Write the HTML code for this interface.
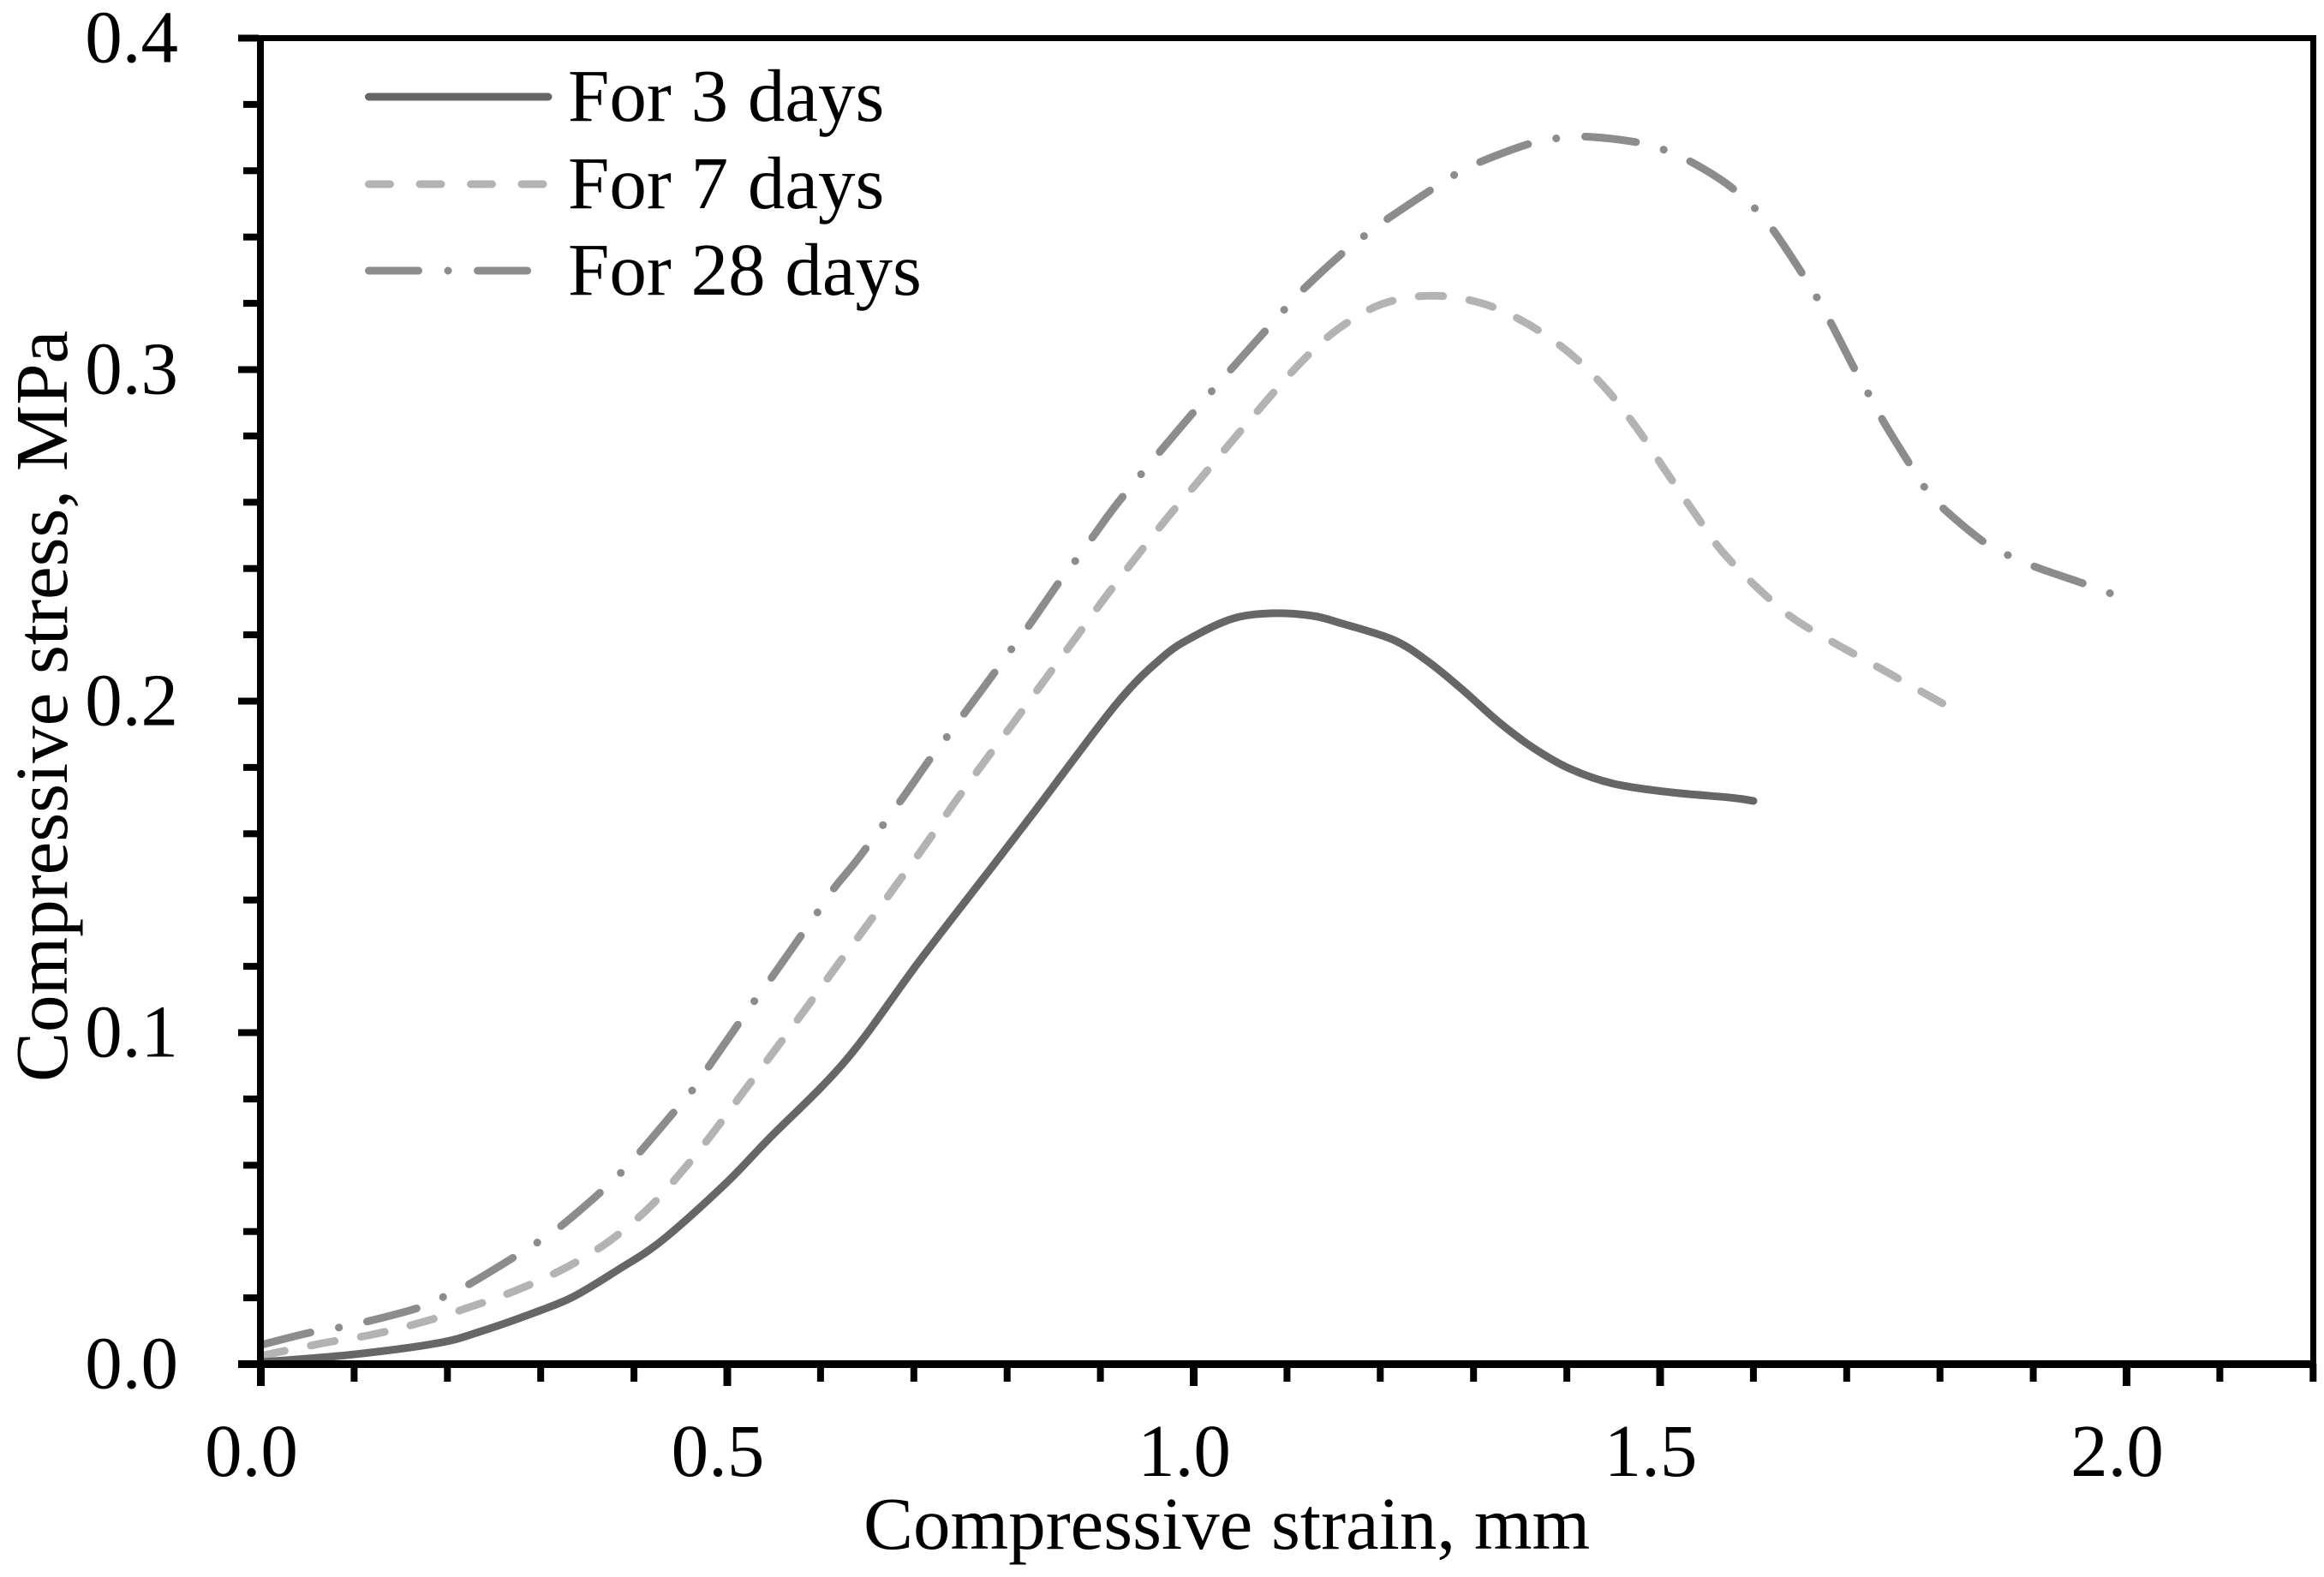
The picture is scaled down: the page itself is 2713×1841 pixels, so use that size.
<!DOCTYPE html>
<html lang="en">
<head>
<meta charset="utf-8">
<title>Compressive stress vs strain</title>
<style>
html,body{margin:0;padding:0;background:#fff;width:2713px;height:1841px;overflow:hidden}
svg{display:block;position:absolute;left:0;top:0}
text{font-family:"Liberation Serif","Times New Roman",serif;font-size:87px;fill:#000}
</style>
</head>
<body>
<svg id="chart" xmlns="http://www.w3.org/2000/svg" width="2713" height="1841" viewBox="0 0 2713 1841">
  <rect x="0" y="0" width="2713" height="1841" fill="#fff"/>
  <g id="series-layer"></g>
  <g id="axes-layer"></g>
  <g>
    <line x1="430.5" y1="113" x2="640" y2="113" stroke="#666666" stroke-width="9" stroke-linecap="round"/>
    <text x="663" y="141" word-spacing="1">For 3 days</text>
    <line x1="430.5" y1="215" x2="634" y2="215" stroke="#b3b3b3" stroke-width="9" stroke-linecap="round" stroke-dasharray="25 34.5"/>
    <text x="663" y="243" word-spacing="1">For 7 days</text>
    <line x1="430.5" y1="316" x2="616.5" y2="316" stroke="#8c8c8c" stroke-width="9" stroke-linecap="round" stroke-dasharray="58 34.5 0.1 34.5"/>
    <text x="663" y="344" word-spacing="1">For 28 days</text>
  </g>
  <text x="1008" y="1808">Compressive strain, mm</text>
  <text transform="translate(78,1263) rotate(-90)" x="0" y="0">Compressive stress, MPa</text>
</svg>
<script>
const xTickLabels = ["0.0", "0.5", "1.0", "1.5", "2.0"];
const yTickLabels = ["0.0", "0.1", "0.2", "0.3", "0.4"];
const xMajorTicks = [0, 0.5, 1.0, 1.5, 2.0];
const yMajorTicks = [0, 0.1, 0.2, 0.3, 0.4];
const xMinorTicks = [0.1,0.2,0.3,0.4,0.6,0.7,0.8,0.9,1.1,1.2,1.3,1.4,1.6,1.7,1.8,1.9,2.1,2.2];
const yMinorTicks = [0.02,0.04,0.06,0.08,0.12,0.14,0.16,0.18,0.22,0.24,0.26,0.28,0.32,0.34,0.36,0.38];

const strain3 = [0,.095,.189,.236,.294,.336,.382,.430,.498,.544,.627,.706,.783,.831,.917,.966,1.000,1.043,1.086,1.128,1.159,1.214,1.251,1.288,1.327,1.364,1.404,1.450,1.511,1.575,1.600];
const stress3 = [.0006,.0028,.0063,.0099,.0156,.0205,.0283,.0373,.0544,.0678,.0916,.1216,.1497,.1673,.1991,.2131,.2195,.2250,.2265,.2257,.2234,.2185,.2120,.2035,.1937,.1859,.1795,.1751,.1725,.1709,.1699];

const strain7 = [0,.066,.119,.171,.224,.275,.325,.371,.414,.451,.485,.517,.551,.583,.615,.648,.680,.712,.743,.775,.808,.840,.872,.904,.938,.972,1.004,1.059,1.114,1.155,1.202,1.255,1.309,1.358,1.403,1.442,1.476,1.506,1.537,1.566,1.607,1.650,1.739,1.804];
const stress7 = [.0025,.0063,.0089,.0125,.0172,.0224,.0288,.0366,.0466,.0580,.0699,.0820,.0947,.1068,.1192,.1317,.1441,.1565,.1691,.1815,.1939,.2063,.2185,.2309,.2433,.2554,.2660,.2844,.3019,.3123,.3198,.3223,.3200,.3138,.3050,.2942,.2820,.2694,.2567,.2453,.2335,.2236,.2094,.1991];

const strain28 = [0,.051,.083,.113,.168,.196,.224,.271,.297,.322,.364,.387,.408,.443,.463,.481,.512,.530,.549,.580,.598,.616,.642,.687,.718,.737,.756,.788,.806,.825,.856,.875,.893,.926,1.007,1.100,1.121,1.161,1.186,1.211,1.257,1.283,1.312,1.363,1.394,1.425,1.479,1.509,1.537,1.573,1.605,1.624,1.655,1.671,1.686,1.711,1.726,1.741,1.770,1.787,1.808,1.851,1.879,1.908,1.959,1.990];
const stress28 = [.0058,.0094,.0110,.0128,.0169,.0203,.0242,.0322,.0368,.0417,.0518,.0580,.0645,.0761,.0828,.0901,.1027,.1099,.1172,.1296,.1368,.1441,.1531,.1704,.1828,.1898,.1970,.2092,.2162,.2234,.2360,.2430,.2500,.2624,.2895,.3190,.3252,.3355,.3410,.3461,.3547,.3593,.3632,.3684,.3699,.3702,.3684,.3658,.3621,.3557,.3477,.3410,.3278,.3203,.3125,.2988,.2914,.2836,.2704,.2632,.2570,.2472,.2433,.2399,.2350,.2317];

const NS = 'http://www.w3.org/2000/svg';
function xScale(v){ return 304.5 + v * 1089; }
function yScale(v){ return 1592.5 - v * 3870; }

function buildPath(xs, ys){
  const p = xs.map((x,i)=>[xScale(x), yScale(ys[i])]);
  let d = 'M' + p[0][0].toFixed(1) + ' ' + p[0][1].toFixed(1);
  for(let i=0;i<p.length-1;i++){
    const a=p[Math.max(i-1,0)], b=p[i], c=p[i+1], e=p[Math.min(i+2,p.length-1)];
    const c1x=b[0]+(c[0]-a[0])/6, c1y=b[1]+(c[1]-a[1])/6;
    const c2x=c[0]-(e[0]-b[0])/6, c2y=c[1]-(e[1]-b[1])/6;
    d += ' C'+c1x.toFixed(1)+' '+c1y.toFixed(1)+' '+c2x.toFixed(1)+' '+c2y.toFixed(1)+' '+c[0].toFixed(1)+' '+c[1].toFixed(1);
  }
  return d;
}

const seriesLayer = document.getElementById('series-layer');
const axesLayer = document.getElementById('axes-layer');

function addSeries(name, xs, ys, color, dash){
  const el = document.createElementNS(NS,'path');
  
  
  el.setAttribute('d', buildPath(xs, ys));
  el.setAttribute('fill', 'none');
  el.setAttribute('stroke', color);
  el.setAttribute('stroke-width', '9');
  el.setAttribute('stroke-linecap', 'round');
  el.setAttribute('stroke-linejoin', 'round');
  if(dash){ el.setAttribute('stroke-dasharray', dash); }
  seriesLayer.appendChild(el);
}
addSeries('series-28-days', strain28, stress28, '#8c8c8c', '59.6 33.75 0.1 33.75');
addSeries('series-7-days', strain7, stress7, '#b3b3b3', '28.5 30.9');
addSeries('series-3-days', strain3, stress3, '#666666', null);

function addRect(name, x, y, w, h){
  const el = document.createElementNS(NS,'rect');
  
  
  el.setAttribute('x', x);
  el.setAttribute('y', y);
  el.setAttribute('width', w);
  el.setAttribute('height', h);
  el.setAttribute('fill', '#000');
  axesLayer.appendChild(el);
}
function addLabel(name, txt, x, y, anchor){
  const el = document.createElementNS(NS,'text');
  
  
  el.setAttribute('x', x);
  el.setAttribute('y', y);
  el.setAttribute('text-anchor', anchor);
  el.textContent = txt;
  axesLayer.appendChild(el);
}

addRect('axis-left', 300, 41, 8, 1555);
addRect('axis-right', 2697, 41, 7, 1555);
addRect('axis-top', 278, 41, 2426, 7);
addRect('axis-bottom', 278, 1588, 2426, 9);

xMajorTicks.forEach((v,i)=>{
  addRect('x-major-tick', xScale(v)-4.5, 1592, 9, 26);
  addLabel('x-tick-label', xTickLabels[i], xScale(v)-11, 1723, 'middle');
});
xMinorTicks.forEach(v=>{
  addRect('x-minor-tick', xScale(v)-4, 1592, 8, 21);
});
yMajorTicks.forEach((v,i)=>{
  addRect('y-major-tick', 278, yScale(v)-4, 24, 8);
  addLabel('y-tick-label', yTickLabels[i], 208, yScale(v)+28, 'end');
});
yMinorTicks.forEach(v=>{
  addRect('y-minor-tick', 284, yScale(v)-4, 18, 8);
});
</script>
</body>
</html>
